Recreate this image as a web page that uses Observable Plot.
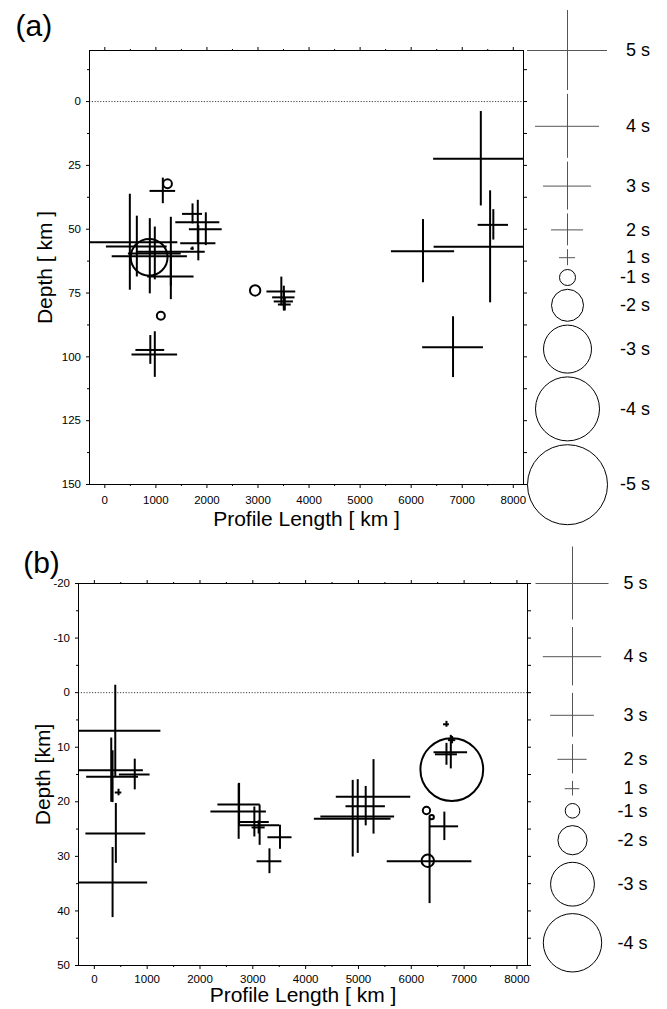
<!DOCTYPE html>
<html>
<head>
<meta charset="utf-8">
<script src="https://cdn.jsdelivr.net/npm/d3@7"></script>
<script src="https://cdn.jsdelivr.net/npm/@observablehq/plot@0.6"></script>
<style>
  body { margin: 0; background: #fff; }
  svg { display: block; }
</style>
</head>
<body>
<div id="chart"></div>
<script>
// ---------- Panel (a) events: profile position (km), depth (km), residual (s) ----------
const aKm    = [490, 627, 881, 979, 1293, 1293, 1718, 1978, 1821, 1831, 1716, 1136, 979, 891, 3457, 3506, 3506, 3525, 7364, 7546, 7609, 6232, 6820, 868, 1228, 1097, 2944];
const aDepth = [55.1, 56.8, 60.6, 59.5, 58.8, 68.5, 44.0, 50.0, 47.3, 55.5, 57.6, 35.0, 99.1, 97.3, 74.4, 76.7, 78.3, 79.5, 22.4, 56.9, 48.3, 58.6, 96.2, 61.0, 32.2, 83.9, 74.0];
const aRes   = [6.0, 3.8, 4.7, 3.3, 4.3, 2.9, 1.25, 2.05, 2.75, 2.2, 0.2, 1.6, 2.85, 1.8, 1.8, 1.4, 1.2, 0.8, 5.9, 7.0, 1.9, 3.95, 3.8, -2.3, -0.55, -0.5, -0.65];

// ---------- Panel (b) events ----------
const bKm    = [396, 320, 345, 765, 458, 407, 345, 2732, 2740, 3029, 3129, 3514, 3110, 3315, 5285, 5137, 4891, 4986, 6748, 6666, 6772, 6666, 6626, 6346, 6767, 6287, 6386, 6312];
const bDepth = [7.0, 14.2, 15.4, 15.0, 18.3, 25.8, 34.8, 21.8, 20.5, 23.7, 24.3, 26.5, 24.7, 30.9, 19.1, 20.8, 23.1, 22.7, 10.9, 11.3, 8.7, 5.8, 24.5, 30.9, 14.1, 21.6, 22.8, 30.8];
const bRes   = [6.25, 4.4, 3.55, 2.1, 0.45, 4.1, 4.8, 3.8, 2.9, 2.05, 2.75, 1.65, 0.9, 1.7, 5.1, 2.7, 5.25, 5.05, 2.3, 1.5, 0.5, 0.4, 1.95, 5.8, -4.3, -0.5, -0.3, -0.85];

// ---------- Ticks and legend values ----------
const xTicks       = [0, 1000, 2000, 3000, 4000, 5000, 6000, 7000, 8000];
const xMinorTicks  = [500, 1500, 2500, 3500, 4500, 5500, 6500, 7500];
const aYTicks      = [0, 25, 50, 75, 100, 125, 150];
const aYMinorTicks = [-12.5, 12.5, 37.5, 62.5, 87.5, 112.5, 137.5];
const bYTicks      = [-20, -10, 0, 10, 20, 30, 40, 50];
const bYMinorTicks = [-15, -5, 5, 15, 25, 35, 45];
const aLegend      = [5, 4, 3, 2, 1, -1, -2, -3, -4, -5];
const bLegend      = [5, 4, 3, 2, 1, -1, -2, -3, -4];

const FONT = "'Liberation Sans', Arial, Helvetica, sans-serif";

function panel(cfg) {
  const W = 667;
  const xRange = [cfg.mL, W - cfg.mR];
  const yRange = [cfg.mT, cfg.H - cfg.mB];
  const sx = Plot.scale({x: {domain: cfg.xDomain, range: xRange}});
  const sy = Plot.scale({y: {domain: cfg.yDomain, range: yRange}});
  const k = cfg.pxPerSec;

  const rows = cfg.km.map((v, i) => ({km: v, depth: cfg.depth[i], res: cfg.res[i]}));
  const crosses = rows.filter(d => d.res > 0);
  const circles = rows.filter(d => d.res < 0);

  // legend stacked downward from the top edge of the frame
  const legX = sx.invert(xRange[1] + cfg.legDx);
  const labX = sx.invert(xRange[1] + cfg.labDx);
  let c = yRange[0];
  const legend = cfg.legend.map((v, i) => {
    if (i > 0) c += k * Math.abs(cfg.legend[i - 1]) + k * Math.abs(v) + cfg.legGap;
    return {km: legX, depth: sy.invert(c), res: v, lx: labX};
  });
  const legCross = legend.filter(d => d.res > 0);
  const legCirc = legend.filter(d => d.res < 0);

  const hx1 = d => sx.invert(sx.apply(d.km) - k * d.res);
  const hx2 = d => sx.invert(sx.apply(d.km) + k * d.res);
  const vy1 = d => sy.invert(sy.apply(d.depth) - k * d.res);
  const vy2 = d => sy.invert(sy.apply(d.depth) + k * d.res);

  const tickOpts = {fontSize: 11.5, label: null};
  const blank = () => "";

  return Plot.plot({
    width: W,
    height: cfg.H,
    marginTop: cfg.mT, marginBottom: cfg.mB, marginLeft: cfg.mL, marginRight: cfg.mR,
    style: {fontFamily: FONT, fontSize: "11.5px", color: "#000", background: "#fff", overflow: "visible"},
    x: {domain: cfg.xDomain, range: xRange},
    y: {domain: cfg.yDomain, range: yRange},
    r: {type: "linear", domain: [0, 1], range: [0, k]},
    marks: [
      Plot.ruleY([0], {stroke: "#444", strokeWidth: 1, strokeDasharray: "1.2,1.6"}),
      // axes: bottom (labelled), top & right (ticks only), left (labelled)
      Plot.axisX(xTicks, {...tickOpts, anchor: "bottom", tickSize: 4, tickPadding: cfg.xPad, tickFormat: d => String(d)}),
      Plot.axisX(xMinorTicks, {...tickOpts, anchor: "bottom", tickSize: 2, tickFormat: blank}),
      Plot.axisX(xTicks, {...tickOpts, anchor: "top", tickSize: 4, tickFormat: blank}),
      Plot.axisX(xMinorTicks, {...tickOpts, anchor: "top", tickSize: 2, tickFormat: blank}),
      Plot.axisY(cfg.yTicks, {...tickOpts, anchor: "left", tickSize: 3, tickPadding: 5.5, tickFormat: d => String(d)}),
      Plot.axisY(cfg.yMinor, {...tickOpts, anchor: "left", tickSize: 2, tickFormat: blank}),
      Plot.axisY(cfg.yTicks, {...tickOpts, anchor: "right", tickSize: 3, tickFormat: blank}),
      Plot.axisY(cfg.yMinor, {...tickOpts, anchor: "right", tickSize: 3, tickFormat: blank}),
      // data: crosses for positive residuals, circles for negative ones
      Plot.ruleY(crosses, {y: "depth", x1: hx1, x2: hx2, stroke: "#000", strokeWidth: 2, clip: true}),
      Plot.ruleX(crosses, {x: "km", y1: vy1, y2: vy2, stroke: "#000", strokeWidth: 2, clip: true}),
      Plot.dot(circles, {x: "km", y: "depth", r: d => -d.res, stroke: "#000", strokeWidth: 2, fill: "none", clip: true}),
      Plot.frame({stroke: "#000", strokeWidth: 1}),
      // legend
      Plot.ruleY(legCross, {y: "depth", x1: hx1, x2: hx2, stroke: "#555", strokeWidth: 1}),
      Plot.ruleX(legCross, {x: "km", y1: vy1, y2: vy2, stroke: "#555", strokeWidth: 1}),
      Plot.dot(legCirc, {x: "km", y: "depth", r: d => -d.res, stroke: "#000", strokeWidth: 1, fill: "none"}),
      Plot.text(legend, {x: "lx", y: "depth", text: d => `${d.res} s`, textAnchor: "end", lineAnchor: "middle", fontSize: 18, fill: "#000"}),
      // titles
      Plot.text([cfg.xLabel], {text: d => d, frameAnchor: "bottom", dy: cfg.xLabDy, textAnchor: "middle", lineAnchor: "middle", fontSize: 21, fill: "#000"}),
      Plot.text([cfg.yLabel], {text: d => d, frameAnchor: "left", dx: cfg.yLabDx, rotate: -90, textAnchor: "middle", lineAnchor: "middle", fontSize: 21, fill: "#000"}),
      Plot.text([cfg.tag], {text: d => d, frameAnchor: "top-left", dx: cfg.tagDx, dy: cfg.tagDy, textAnchor: "start", lineAnchor: "middle", fontSize: 30, fill: "#000"})
    ]
  });
}

const root = document.getElementById("chart");
root.append(panel({
  H: 540, mT: 50, mB: 56, mL: 89, mR: 144,
  xDomain: [-300, 8200], yDomain: [-20, 150],
  km: aKm, depth: aDepth, res: aRes,
  yTicks: aYTicks, yMinor: aYMinorTicks,
  pxPerSec: 8, legend: aLegend, legGap: 3.8, legDx: 44, labDx: 126.5,
  xPad: 7, xLabel: "Profile Length [ km ]", xLabDy: 34.3,
  yLabel: "Depth [ km ]", yLabDx: -44.7,
  tag: "(a)", tagDx: -74, tagDy: -24
}));
root.append(panel({
  H: 469, mT: 43, mB: 44, mL: 78, mR: 140,
  xDomain: [-300, 8200], yDomain: [-20, 50],
  km: bKm, depth: bDepth, res: bRes,
  yTicks: bYTicks, yMinor: bYMinorTicks,
  pxPerSec: 7.3, legend: bLegend, legGap: 7.5, legDx: 45, labDx: 120,
  xPad: 5.5, xLabel: "Profile Length [ km ]", xLabDy: 30,
  yLabel: "Depth [km]", yLabDx: -35.4,
  tag: "(b)", tagDx: -55.3, tagDy: -19.7
}));
</script>
</body>
</html>
